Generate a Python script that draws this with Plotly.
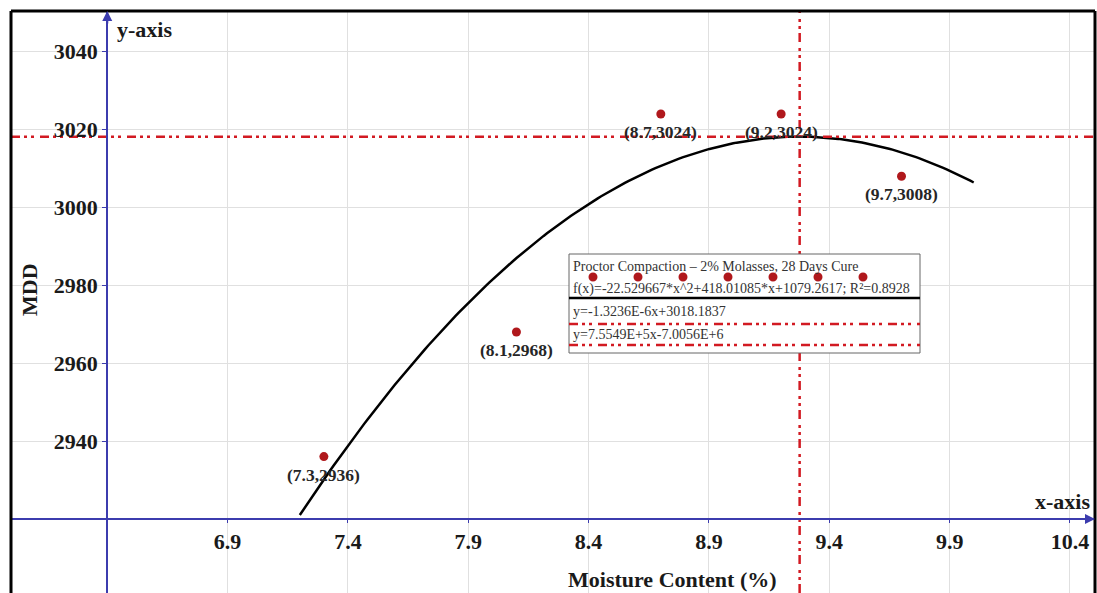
import numpy as np
import plotly.graph_objects as go

# Proctor compaction test: 2% molasses, 28 days cure
moisture = [7.3, 8.1, 8.7, 9.2, 9.7]
mdd = [2936, 2968, 3024, 3024, 3008]

# Quadratic fit f(x) = a*x^2 + b*x + c
fit_coef = [-22.529667, 418.01085, 1079.2617]
fit_r2 = 0.8928
fit_domain = [7.2, 10.0]

# Reference lines: y = m*x + k
h_line = [-1.3236e-6, 3018.1837]
v_line = [7.5549e5, -7.0056e6]

x_ticks = [6.9, 7.4, 7.9, 8.4, 8.9, 9.4, 9.9, 10.4]
y_ticks = [2940, 2960, 2980, 3000, 3020, 3040]
x_origin, y_origin = 6.4, 2920
x_range = [6.0, 10.504]
y_range = [2900.97, 3050.45]

serif = "Liberation Serif, Times New Roman, serif"
axis_blue = "#3c3cae"
ref_red = "#d21a22"
dot_red = "#b0181c"
dashdot = "9px,4px,3px,4px,3px,6px"

fig = go.Figure()

# fitted curve
xf = np.linspace(fit_domain[0], fit_domain[1], 200)
yf = fit_coef[0] * xf**2 + fit_coef[1] * xf + fit_coef[2]
fig.add_trace(go.Scatter(x=xf, y=yf, mode="lines",
                         line=dict(color="black", width=2.5), hoverinfo="skip"))

# horizontal reference line
xh = np.array(x_range)
fig.add_trace(go.Scatter(x=xh, y=h_line[0] * xh + h_line[1], mode="lines",
                         line=dict(color=ref_red, width=2.5, dash=dashdot)))

# vertical reference line
yv = np.array(y_range)
fig.add_trace(go.Scatter(x=(yv - v_line[1]) / v_line[0], y=yv, mode="lines",
                         line=dict(color=ref_red, width=2.5, dash=dashdot)))

# measured points
fig.add_trace(go.Scatter(x=moisture, y=mdd, mode="markers",
                         marker=dict(color=dot_red, size=9)))

# coordinate labels under each point
for x, y in zip(moisture, mdd):
    fig.add_annotation(text=f"<b>({x},{y})</b>", x=x, y=y, xref="x", yref="y",
                       xanchor="center", yanchor="middle", yshift=-18, showarrow=False,
                       font=dict(family=serif, size=17.5, color="#262626"))

xpos = (x_origin - x_range[0]) / (x_range[1] - x_range[0])
ypos = (y_origin - y_range[0]) / (y_range[1] - y_range[0])

axis_font = dict(family=serif, size=22, color="#1a1a1a")

fig.update_layout(
    width=1097, height=593,
    margin=dict(l=11, r=2, t=11, b=0),
    plot_bgcolor="white", paper_bgcolor="white",
    showlegend=False,
    xaxis=dict(range=x_range, tickvals=x_ticks, ticktext=[f"<b>{t}</b>" for t in x_ticks],
               anchor="free", position=ypos, showline=True, linecolor=axis_blue, linewidth=2,
               ticks="outside", ticklen=3, tickcolor=axis_blue,
               showgrid=True, gridcolor="#e0e0e0", gridwidth=1, zeroline=False,
               tickfont=axis_font),
    yaxis=dict(range=y_range, tickvals=y_ticks, ticktext=[f"<b>{t}</b>" for t in y_ticks],
               anchor="free", position=xpos, showline=True, linecolor=axis_blue, linewidth=2,
               ticks="outside", ticklen=4, tickcolor=axis_blue,
               showgrid=True, gridcolor="#e0e0e0", gridwidth=1, zeroline=False,
               tickfont=axis_font),
)

# frame
frame = dict(color="black", width=3)
fig.add_shape(type="line", xref="paper", yref="paper", x0=0, x1=0, y0=0, y1=1, line=frame)
fig.add_shape(type="line", xref="paper", yref="paper", x0=0, x1=1, y0=1, y1=1, line=frame)
fig.add_shape(type="line", xref="paper", yref="paper", x0=1, x1=1, y0=0, y1=1, line=frame)

# axis arrowheads
fig.add_annotation(x=x_origin, y=y_range[1], xref="x", yref="y", ax=0, ay=14,
                   showarrow=True, arrowhead=2, arrowsize=1, arrowwidth=2,
                   arrowcolor=axis_blue, text="")
fig.add_annotation(x=x_range[1], y=y_origin, xref="x", yref="y", ax=-14, ay=0,
                   showarrow=True, arrowhead=2, arrowsize=1, arrowwidth=2,
                   arrowcolor=axis_blue, text="")

# axis names and titles
fig.add_annotation(text="<b>y-axis</b>", x=x_origin, y=y_range[1], xref="x", yref="y",
                   xanchor="left", yanchor="top", xshift=8, yshift=-4,
                   showarrow=False, font=axis_font)
fig.add_annotation(text="<b>x-axis</b>", x=x_range[1], y=y_origin, xref="x", yref="y",
                   xanchor="right", yanchor="bottom", xshift=-3, yshift=3,
                   showarrow=False, font=axis_font)


def px(xp):
    return (xp - 11) / 1084


def py(yp):
    return (593 - yp) / 582


fig.add_annotation(text="<b>MDD</b>", x=px(29), y=py(290), xref="paper", yref="paper",
                   xanchor="center", yanchor="middle",
                   textangle=-90, showarrow=False, font=axis_font)
fig.add_annotation(text="<b>Moisture Content (%)</b>", x=px(672), y=py(579),
                   xref="paper", yref="paper", xanchor="center", yanchor="middle",
                   showarrow=False, font=axis_font)

# legend box
fig.add_shape(type="rect", xref="paper", yref="paper", x0=px(569), x1=px(920), y0=py(353), y1=py(254),
              line=dict(color="#666666", width=1), fillcolor="white", layer="above")
legend_font = dict(family=serif, size=14, color="#333333")
legend_rows = [
    ("Proctor Compaction – 2% Molasses, 28 Days Cure", 266),
    (f"f(x)=-22.529667*x^2+418.01085*x+1079.2617; R²={fit_r2}", 289),
    ("y=-1.3236E-6x+3018.1837", 312),
    ("y=7.5549E+5x-7.0056E+6", 334),
]
for txt, yp in legend_rows:
    fig.add_annotation(text=txt, x=px(571), y=py(yp), xref="paper", yref="paper",
                       xanchor="left", yanchor="middle", showarrow=False, font=legend_font)
fig.add_shape(type="line", xref="paper", yref="paper", x0=px(569), x1=px(920), y0=py(298), y1=py(298),
              line=dict(color="black", width=2.5), layer="above")
for yp in (324, 345):
    fig.add_shape(type="line", xref="paper", yref="paper", x0=px(569), x1=px(920), y0=py(yp), y1=py(yp),
                  line=dict(color=ref_red, width=2.5, dash=dashdot), layer="above")
for xp in (593, 638, 683, 728, 773, 818, 863):
    fig.add_shape(type="circle", xref="paper", yref="paper",
                  x0=px(xp - 4.5), x1=px(xp + 4.5), y0=py(281.5), y1=py(272.5),
                  line=dict(width=0), fillcolor=dot_red, layer="above")

fig.write_html("out.html")
